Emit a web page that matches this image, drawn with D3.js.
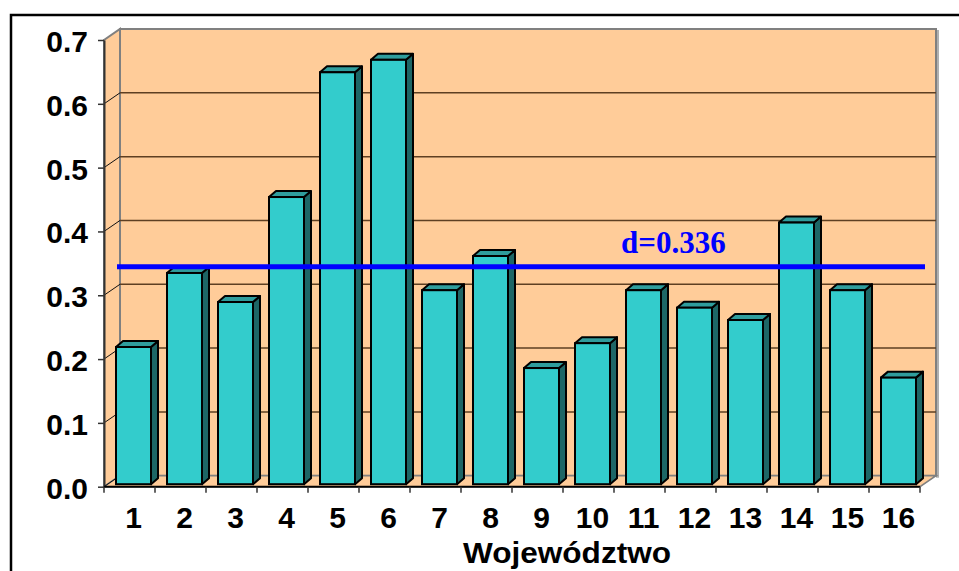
<!DOCTYPE html>
<html>
<head>
<meta charset="utf-8">
<script src="https://cdn.jsdelivr.net/npm/d3@7"></script>
<style>
  html, body { margin: 0; padding: 0; background: #fff; }
  svg { display: block; }
</style>
</head>
<body>
<script>
// Data
const categories = ['1','2','3','4','5','6','7','8','9','10','11','12','13','14','15','16'];
const values = [0.215, 0.331, 0.2855, 0.450, 0.6455, 0.665, 0.304, 0.3576, 0.182, 0.221, 0.304, 0.2766, 0.2573, 0.410, 0.304, 0.167];
const yTicks = [0, 0.1, 0.2, 0.3, 0.4, 0.5, 0.6, 0.7];
const meanValue = 0.336;
const meanLabel = 'd=0.336';
const axisTitle = 'Województwo';

const W = 959, H = 571;
const svg = d3.select('body').append('svg').attr('width', W).attr('height', H);
svg.append('rect').attr('width', W).attr('height', H).attr('fill', '#fff');

// chart frame
svg.append('rect').attr('x', 11).attr('y', 15).attr('width', 1000).attr('height', 700)
  .attr('fill', 'none').attr('stroke', '#000').attr('stroke-width', 2.5);

const x = d3.scaleBand().domain(categories).range([104, 920]);
const y = d3.scaleLinear().domain([0, 0.7]).range([486.7, 40]);

// 3D depth of the plot box
const DX = 16, DY = -11;
const wallFill = '#FFCC99', edge = '#808080';
const x0 = x.range()[0], x1 = x.range()[1];
const yb = y(0), yt = y(0.7);

// shadow of the back wall
svg.append('rect').attr('x', x1 + DX).attr('y', yt + DY + 1).attr('width', 3).attr('height', yb - yt + 1)
  .attr('fill', '#b0b0b0');

// back wall
svg.append('rect').attr('x', x0 + DX).attr('y', yt + DY).attr('width', x1 - x0).attr('height', yb - yt)
  .attr('fill', wallFill).attr('stroke', edge).attr('stroke-width', 2);

// left side wall
svg.append('polygon')
  .attr('points', [[x0, yb], [x0, yt], [x0 + DX, yt + DY], [x0 + DX, yb + DY]].map(p => p.join(',')).join(' '))
  .attr('fill', wallFill).attr('stroke', edge).attr('stroke-width', 2);

// floor
svg.append('polygon')
  .attr('points', [[x0, yb], [x1, yb], [x1 + DX, yb + DY], [x0 + DX, yb + DY]].map(p => p.join(',')).join(' '))
  .attr('fill', wallFill).attr('stroke', edge).attr('stroke-width', 1.5);

// gridlines on the back wall and the side wall
const inner = yTicks.filter(v => v > 0 && v < 0.7);
svg.append('g').selectAll('line').data(inner).join('line')
  .attr('x1', x0 + DX).attr('x2', x1 + DX)
  .attr('y1', d => y(d) + DY).attr('y2', d => y(d) + DY)
  .attr('stroke', '#5e3f22').attr('stroke-width', 1.5);
svg.append('g').selectAll('line').data(yTicks.filter(v => v < 0.7)).join('line')
  .attr('x1', x0).attr('x2', x0 + DX)
  .attr('y1', d => y(d)).attr('y2', d => y(d) + DY)
  .attr('stroke', '#111').attr('stroke-width', 1);

// bars (front face set back into the box)
const fOff = 12, barW = 35;
const FY = -2.5;              // front face offset
const BX = 7, BY = -6;        // bar depth
const bars = svg.append('g');
categories.forEach((c, i) => {
  const v = values[i];
  const lx = x(c) + fOff, rx = lx + barW;
  const ty = y(v) + FY, by = y(0) + FY;
  const g = bars.append('g');
  g.append('polygon')
    .attr('points', [[rx, by], [rx, ty], [rx + BX, ty + BY], [rx + BX, by + BY]].map(p => p.join(',')).join(' '))
    .attr('fill', '#1d6666').attr('stroke', '#000').attr('stroke-width', 2).attr('stroke-linejoin', 'round');
  g.append('polygon')
    .attr('points', [[lx, ty], [rx, ty], [rx + BX, ty + BY], [lx + BX, ty + BY]].map(p => p.join(',')).join(' '))
    .attr('fill', '#2f9d9d').attr('stroke', '#000').attr('stroke-width', 2).attr('stroke-linejoin', 'round');
  g.append('rect').attr('x', lx).attr('y', ty).attr('width', barW).attr('height', by - ty)
    .attr('fill', '#33CCCC').attr('stroke', '#000').attr('stroke-width', 2);
});

// mean line at mid-depth
const MY = (FY + FY + BY) / 2;
svg.append('line')
  .attr('x1', x0 + 13).attr('x2', x1 + 5)
  .attr('y1', y(meanValue) + MY).attr('y2', y(meanValue) + MY)
  .attr('stroke', '#0000FF').attr('stroke-width', 5);
svg.append('text')
  .attr('x', x('11') + 7).attr('y', y(meanValue) + MY - 13.5)
  .attr('font-family', '"Liberation Serif", "Times New Roman", serif')
  .attr('font-weight', 'bold').attr('font-size', 31).attr('fill', '#0000FF')
  .text(meanLabel);

// y axis
const yAxis = svg.append('g').attr('transform', `translate(${x0},0)`)
  .call(d3.axisLeft(y).tickValues(yTicks).tickFormat(d3.format('.1f')).tickSize(6).tickSizeOuter(0));
yAxis.select('.domain').attr('stroke', '#333').attr('stroke-width', 2);
yAxis.selectAll('.tick line').attr('stroke', '#333').attr('stroke-width', 1.5);
yAxis.selectAll('.tick text')
  .attr('x', -16).attr('dy', '0.38em')
  .attr('font-family', '"Liberation Sans", Arial, sans-serif')
  .attr('font-weight', 'bold').attr('font-size', 30).attr('fill', '#000');

// x axis line, edge ticks and labels centred under the bars
svg.append('line').attr('x1', x0).attr('x2', x1).attr('y1', yb).attr('y2', yb)
  .attr('stroke', '#000').attr('stroke-width', 2);
const edges = categories.map(c => x(c)).concat([x1]);
svg.append('g').selectAll('line').data(edges).join('line')
  .attr('x1', d => d).attr('x2', d => d).attr('y1', yb).attr('y2', yb + 6)
  .attr('stroke', '#333').attr('stroke-width', 1.5);
svg.append('g').selectAll('text').data(categories).join('text')
  .attr('x', c => x(c) + fOff + barW / 2).attr('y', 528)
  .attr('text-anchor', 'middle')
  .attr('font-family', '"Liberation Sans", Arial, sans-serif')
  .attr('font-weight', 'bold').attr('font-size', 30).attr('fill', '#000')
  .text(c => c);

// axis title
svg.append('text')
  .attr('x', 463).attr('y', 563)
  .attr('font-family', '"Liberation Sans", Arial, sans-serif')
  .attr('font-weight', 'bold').attr('font-size', 30).attr('fill', '#000')
  .attr('textLength', 208).attr('lengthAdjust', 'spacingAndGlyphs')
  .text(axisTitle);
</script>
</body>
</html>
